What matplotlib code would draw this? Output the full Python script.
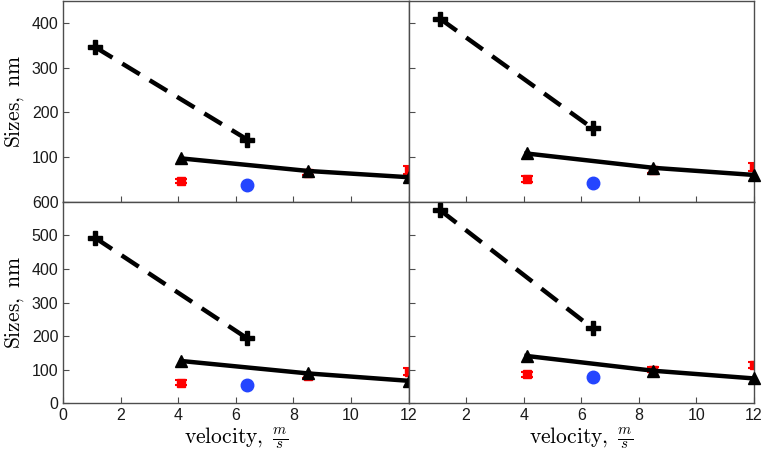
import matplotlib
matplotlib.use("Agg")
import matplotlib.pyplot as plt

plt.rcParams['font.family'] = ['Liberation Sans', 'DejaVu Sans']
plt.rcParams['mathtext.fontset'] = 'cm'

# data per panel: (crosses, triangles, red errorbars, blue dot)
cross_x = [1.1, 6.4]
tri_x = [4.1, 8.5, 12.0]
red_x = [4.1, 8.5, 12.0]
blue_x = [6.4]

cross_y = [[346, 139], [409, 164], [493, 193], [575, 223]]
tri_y = [[97, 69, 55], [108, 76, 60], [126, 89, 67], [141, 97, 74]]
red_y = [[46, 65, 71], [51, 71, 78], [61, 81, 94], [86, 100, 114]]
red_err = [[5, 5, 8], [6, 6, 9], [7, 7, 10], [7, 7, 10]]
blue_y = [[38], [43], [55], [79]]

ylims = [(0, 450), (0, 450), (0, 600), (0, 600)]

W, H = 762, 457
fig = plt.figure(figsize=(W / 100, H / 100), dpi=100)
x0, xm, x1 = 63.3, 408.5, 754.0
ytop, ymid, ybot = 0.5, 201.8, 403.3
rects = [
    (x0, ytop, xm, ymid), (xm, ytop, x1, ymid),
    (x0, ymid, xm, ybot), (xm, ymid, x1, ybot),
]
spine_c = '#4d4d4d'
for i, (l, t, r, b) in enumerate(rects):
    ax = fig.add_axes([l / W, 1 - b / H, (r - l) / W, (b - t) / H])
    ax.errorbar(red_x, red_y[i], yerr=red_err[i], fmt='s', color='#ff0000',
                ms=6, capsize=4.5, elinewidth=3, capthick=1.5, zorder=2)
    ax.plot(blue_x, blue_y[i], 'o', color='#2445ff', ms=9, zorder=3)
    ax.plot(cross_x, cross_y[i], '--', color='black', lw=3.2,
            dashes=(4.6, 2.6), zorder=4)
    ax.plot(cross_x, cross_y[i], 'P', color='black', ms=10, zorder=5)
    ax.plot(tri_x, tri_y[i], '-^', color='black', lw=3.2, ms=8, zorder=6,
            clip_on=False)
    ax.set_xlim(0, 12)
    ax.set_ylim(*ylims[i])
    ax.tick_params(direction='in', length=4, color=spine_c, labelsize=11.5,
                   labelcolor='#1a1a1a')
    for s in ax.spines.values():
        s.set_color(spine_c)
        s.set_linewidth(1.0)
    if i < 2:
        ax.set_yticks([100, 200, 300, 400])
        ax.set_xticks([2, 4, 6, 8, 10, 12])
        ax.set_xticklabels([])
    else:
        ax.set_yticks([0, 100, 200, 300, 400, 500, 600])
        if i == 2:
            ax.set_xticks([0, 2, 4, 6, 8, 10, 12])
        else:
            ax.set_xticks([2, 4, 6, 8, 10, 12])
        ax.set_xlabel(r'$\mathrm{velocity,}\ \frac{m}{s}$', fontsize=15.5,
                      labelpad=2)
    if i % 2 == 1:
        ax.set_yticklabels([])
    else:
        ax.set_ylabel(r'$\mathrm{Sizes,\ nm}$', fontsize=15.5, labelpad=4)

fig.savefig('out.png', dpi=100)
